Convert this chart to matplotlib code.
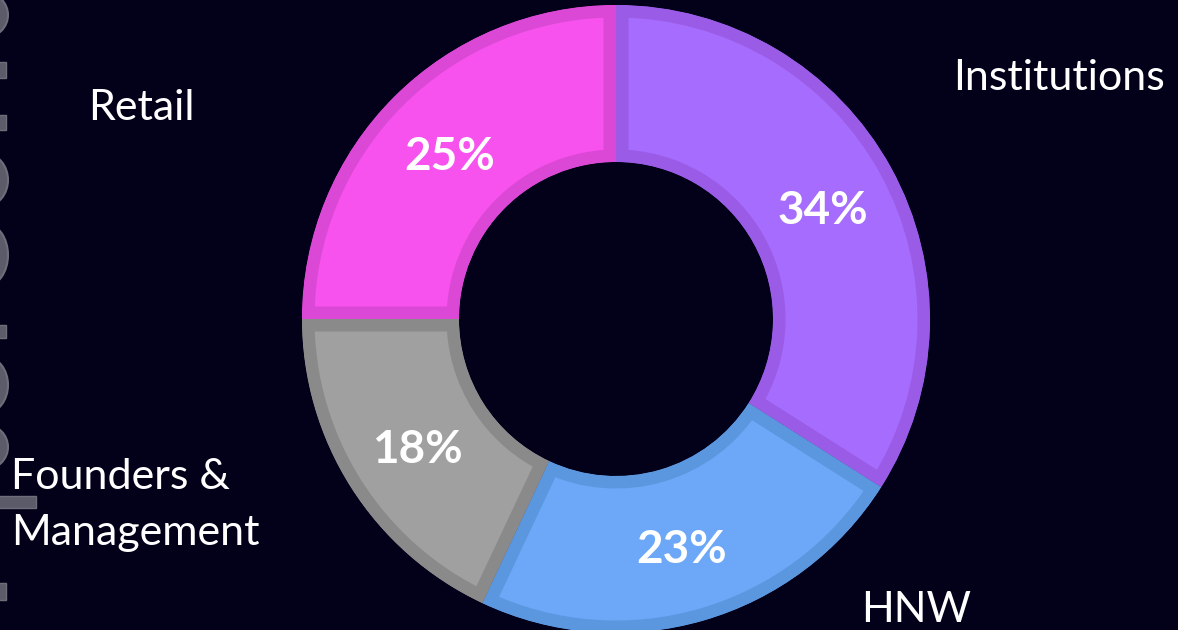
import matplotlib
matplotlib.use("Agg")
import matplotlib.pyplot as plt
import matplotlib.transforms as mtransforms
from matplotlib.patches import Ellipse, Rectangle

categories = ["Institutions", "HNW", "Founders &", "Management", "Retail"]
values = [34, 23, 18, 25]
pct_labels = ["34%", "23%", "18%", "25%"]
fill_colors = ["#a66cfd", "#6ca7f8", "#a0a0a0", "#f752ee"]
edge_colors = ["#9a5be6", "#5b97df", "#8a8a8a", "#dc48d6"]

BG = "#03011a"
W, H = 1178, 630

fig = plt.figure(figsize=(W / 100, H / 100), dpi=100, facecolor=BG)
ax = fig.add_axes([0, 0, 1, 1])
ax.set_facecolor(BG)

cx, cy, R = 616, 319, 314
wedges, texts, autotexts = ax.pie(
    values, center=(cx, cy), radius=R, startangle=-90, counterclock=True,
    colors=fill_colors, labels=None,
    autopct=lambda p: "", pctdistance=0.75,
    wedgeprops=dict(width=R * 0.5, linewidth=18, antialiased=True),
    frame=False,
)
ax.set_xlim(0, W)
ax.set_ylim(H, 0)
ax.set_aspect("equal")
ax.axis("off")

for w, ec in zip(wedges, edge_colors):
    w.set_edgecolor(ec)
    w.set_clip_path(w.get_path(), w.get_transform())
    w.set_clip_on(True)

shift = mtransforms.ScaledTranslation(0, -5 / 100, fig.dpi_scale_trans)
for at, lab in zip(autotexts, pct_labels):
    at.set_text(lab)
    at.set_color("white")
    at.set_fontsize(33)
    at.set_fontweight("bold")
    at.set_fontfamily("Lato")
    at.set_transform(at.get_transform() + shift)

lab_kw = dict(color="white", fontsize=31, fontfamily="Lato")
ax.text(1059, 78, categories[0], ha="center", va="center", **lab_kw)
ax.text(916, 610, categories[1], ha="center", va="center", **lab_kw)
ax.text(11, 477, categories[2], ha="left", va="center", **lab_kw)
ax.text(11, 533, categories[3], ha="left", va="center", **lab_kw)
ax.text(141, 108, categories[4], ha="center", va="center", **lab_kw)

# faint cropped decoration on the left edge
gray, gray_e = "#5c5b69", "#6e6d7a"
for (yc, hh) in [(15, 44), (180, 52), (255, 62), (385, 56), (447, 44)]:
    ax.add_patch(Ellipse((-14, yc), 44, hh, facecolor=gray, edgecolor=gray_e, lw=1.5))
for (y0, y1) in [(62, 78), (115, 130), (325, 338), (583, 600)]:
    ax.add_patch(Rectangle((-2, y0), 8, y1 - y0, facecolor=gray, edgecolor=gray_e, lw=1))
ax.add_patch(Rectangle((-2, 496), 38, 12, facecolor=gray, edgecolor=gray_e, lw=1))

fig.savefig("out.png", dpi=100, facecolor=BG)
